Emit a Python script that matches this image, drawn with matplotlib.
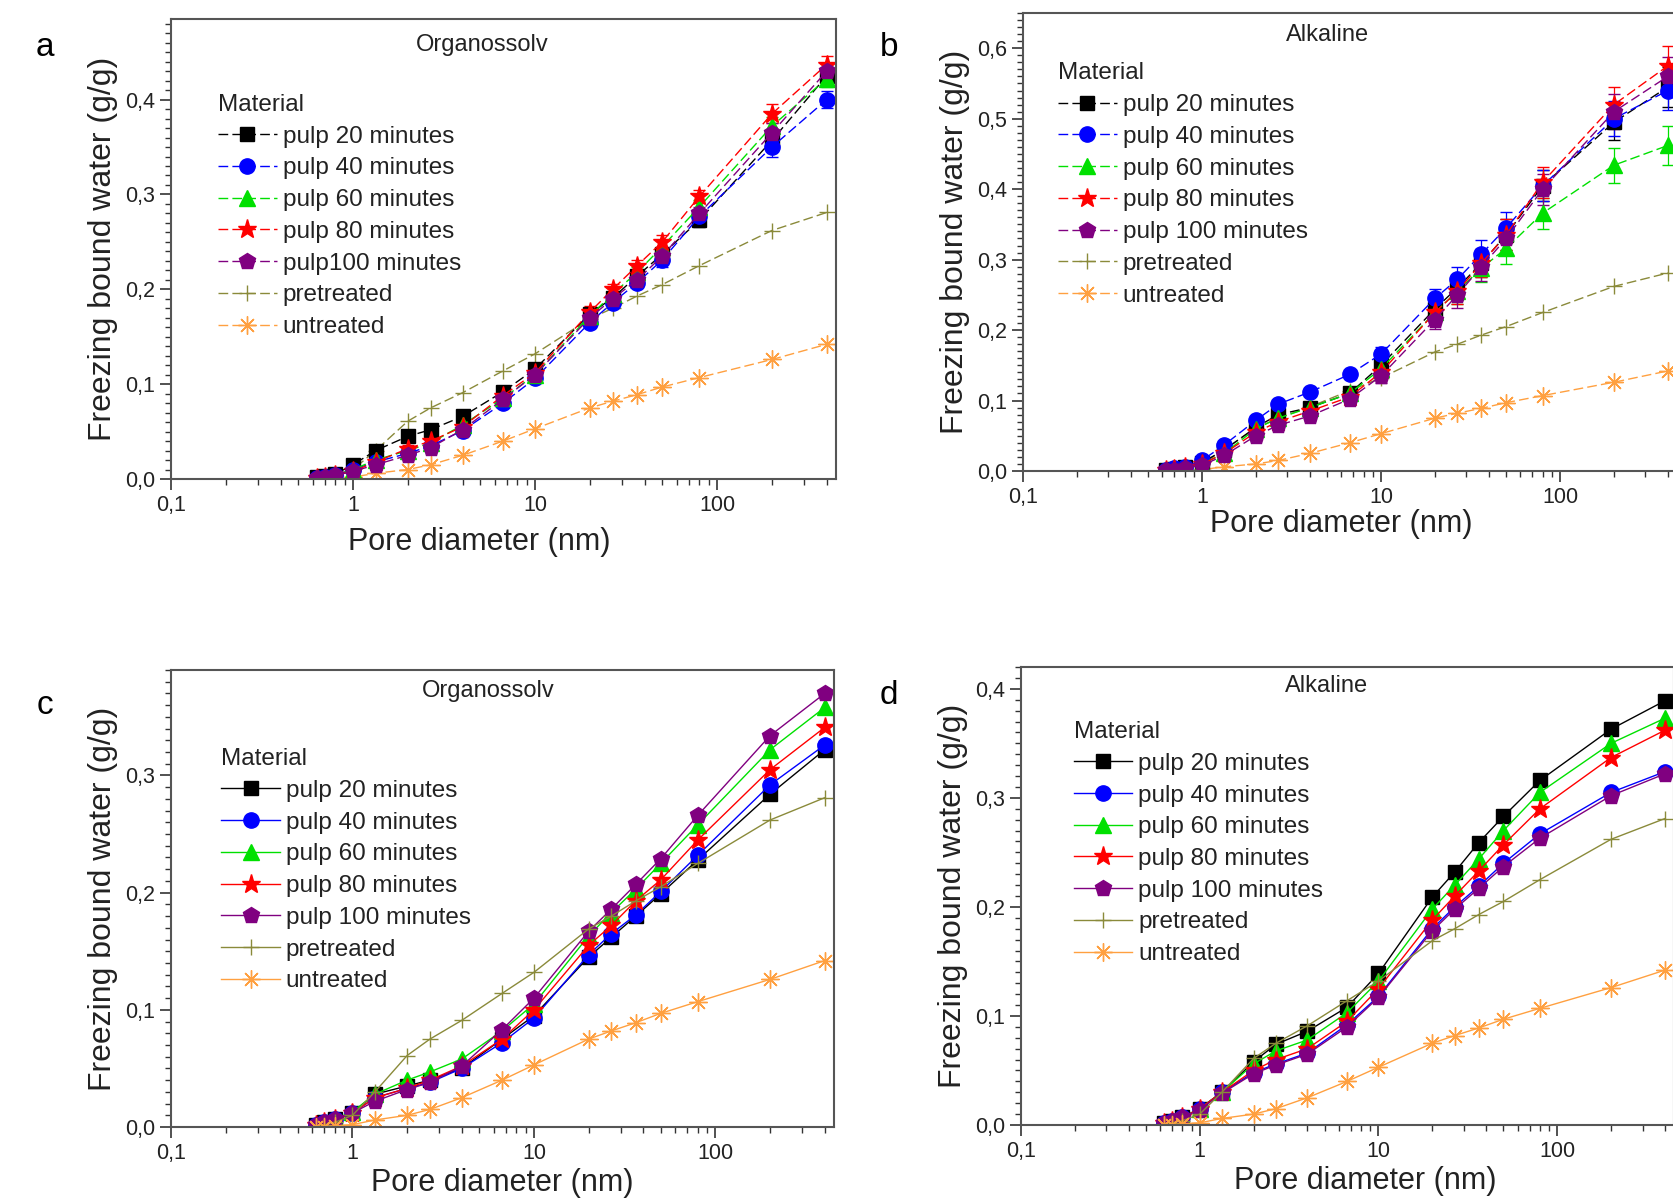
import matplotlib
matplotlib.use('Agg')
import matplotlib.pyplot as plt
import numpy as np
from matplotlib.ticker import FuncFormatter, MultipleLocator, LogLocator

plt.rcParams['font.family'] = ['Liberation Sans', 'DejaVu Sans']

# Pore diameter [nm]
pore = [0.63, 0.7, 0.8, 1.0, 1.33, 2.0, 2.67, 4.0, 6.67, 10, 20, 26.7, 36.4, 50, 80, 200, 400]

# shared reference curves (same in all panels)
pretreated = [0.0, 0.002, 0.004, 0.010, 0.030, 0.061, 0.075, 0.091, 0.114, 0.132, 0.169, 0.180, 0.193, 0.205, 0.225, 0.262, 0.281]
untreated = [0.0, 0.0, 0.001, 0.002, 0.006, 0.010, 0.015, 0.025, 0.040, 0.053, 0.075, 0.082, 0.089, 0.097, 0.107, 0.126, 0.142]

# a: Organossolv (freezing bound water, g/g)
a_p20 = [0.002, 0.003, 0.005, 0.015, 0.030, 0.045, 0.052, 0.066, 0.092, 0.116, 0.174, 0.191, 0.214, 0.237, 0.273, 0.357, 0.425]
a_p40 = [0.001, 0.002, 0.004, 0.010, 0.018, 0.027, 0.035, 0.051, 0.080, 0.106, 0.165, 0.186, 0.207, 0.231, 0.277, 0.350, 0.400]
a_p60 = [0.001, 0.002, 0.004, 0.010, 0.020, 0.030, 0.038, 0.057, 0.085, 0.110, 0.172, 0.195, 0.218, 0.245, 0.287, 0.372, 0.422]
a_p80 = [0.001, 0.002, 0.004, 0.008, 0.018, 0.032, 0.040, 0.055, 0.088, 0.112, 0.176, 0.200, 0.225, 0.250, 0.298, 0.385, 0.437]
a_p100 = [0.001, 0.002, 0.004, 0.008, 0.015, 0.025, 0.033, 0.052, 0.084, 0.110, 0.170, 0.190, 0.210, 0.235, 0.280, 0.365, 0.430]
a_err = [0.001, 0.001, 0.001, 0.002, 0.003, 0.004, 0.004, 0.004, 0.005, 0.005, 0.006, 0.006, 0.006, 0.007, 0.007, 0.010, 0.009]

# b: Alkaline
b_p20 = [0.002, 0.003, 0.005, 0.012, 0.030, 0.062, 0.080, 0.090, 0.110, 0.150, 0.230, 0.260, 0.295, 0.335, 0.405, 0.495, 0.545]
b_p40 = [0.002, 0.004, 0.006, 0.015, 0.037, 0.072, 0.095, 0.112, 0.137, 0.166, 0.245, 0.272, 0.308, 0.345, 0.405, 0.500, 0.540]
b_p60 = [0.001, 0.003, 0.005, 0.010, 0.025, 0.060, 0.075, 0.090, 0.110, 0.145, 0.225, 0.255, 0.288, 0.316, 0.366, 0.434, 0.462]
b_p80 = [0.001, 0.003, 0.005, 0.010, 0.025, 0.055, 0.070, 0.085, 0.105, 0.140, 0.225, 0.255, 0.295, 0.335, 0.410, 0.520, 0.575]
b_p100 = [0.001, 0.002, 0.004, 0.008, 0.022, 0.050, 0.065, 0.078, 0.102, 0.135, 0.215, 0.250, 0.290, 0.330, 0.400, 0.510, 0.560]
b_err = [0.001, 0.001, 0.002, 0.003, 0.004, 0.005, 0.005, 0.006, 0.007, 0.010, 0.014, 0.018, 0.020, 0.022, 0.022, 0.025, 0.028]

# c: Organossolv
c_p20 = [0.002, 0.004, 0.007, 0.012, 0.028, 0.035, 0.040, 0.050, 0.075, 0.095, 0.145, 0.162, 0.180, 0.199, 0.228, 0.284, 0.322]
c_p40 = [0.002, 0.004, 0.007, 0.012, 0.025, 0.033, 0.038, 0.050, 0.072, 0.093, 0.147, 0.165, 0.181, 0.201, 0.232, 0.292, 0.326]
c_p60 = [0.002, 0.004, 0.007, 0.013, 0.028, 0.040, 0.047, 0.058, 0.082, 0.105, 0.163, 0.183, 0.203, 0.225, 0.258, 0.322, 0.358]
c_p80 = [0.002, 0.004, 0.007, 0.012, 0.025, 0.033, 0.040, 0.052, 0.075, 0.100, 0.155, 0.172, 0.193, 0.211, 0.245, 0.305, 0.341]
c_p100 = [0.002, 0.004, 0.007, 0.012, 0.022, 0.032, 0.038, 0.052, 0.083, 0.110, 0.167, 0.186, 0.207, 0.229, 0.266, 0.334, 0.370]

# d: Alkaline
d_p20 = [0.002, 0.004, 0.007, 0.015, 0.030, 0.058, 0.074, 0.086, 0.108, 0.139, 0.209, 0.232, 0.259, 0.283, 0.316, 0.363, 0.389]
d_p40 = [0.002, 0.004, 0.007, 0.015, 0.030, 0.048, 0.056, 0.066, 0.092, 0.118, 0.180, 0.200, 0.219, 0.240, 0.267, 0.305, 0.324]
d_p60 = [0.002, 0.004, 0.007, 0.015, 0.030, 0.056, 0.068, 0.078, 0.103, 0.132, 0.198, 0.220, 0.244, 0.270, 0.305, 0.350, 0.373]
d_p80 = [0.002, 0.004, 0.007, 0.015, 0.030, 0.050, 0.060, 0.070, 0.095, 0.125, 0.188, 0.210, 0.233, 0.257, 0.290, 0.337, 0.362]
d_p100 = [0.002, 0.004, 0.007, 0.014, 0.029, 0.047, 0.055, 0.065, 0.090, 0.117, 0.178, 0.198, 0.217, 0.237, 0.263, 0.302, 0.322]

labels = ['pulp 20 minutes', 'pulp 40 minutes', 'pulp 60 minutes', 'pulp 80 minutes', 'pulp 100 minutes']

styles = [
    dict(color='#000000', marker='s', ms=10),
    dict(color='#0000ff', marker='o', ms=11),
    dict(color='#00e000', marker='^', ms=11),
    dict(color='#ff0000', marker='*', ms=14),
    dict(color='#800080', marker='p', ms=12),
]
pre_style = dict(color='#8a8a3a', marker='+', ms=12, mew=1.0)
unt_style = dict(color='#ffa040', marker=(8, 2, 0), ms=13, mew=1.0)

W, H = 1674, 1200
fig = plt.figure(figsize=(W / 100, H / 100), dpi=100)
fig.patch.set_facecolor('white')


def px_axes(left, right, top, bottom):
    return fig.add_axes([left / W, 1 - bottom / H, (right - left) / W, (bottom - top) / H])


comma = FuncFormatter(lambda v, p: f'{v:.1f}'.replace('.', ','))
xfmt = FuncFormatter(lambda v, p: {0.1: '0,1', 1: '1', 10: '10', 100: '100'}.get(round(v, 3), ''))

panels = [
    dict(box=(171, 836, 19, 479), ymax=0.485, title='Organossolv', tx=0.468, ty=0.944,
         series=[a_p20, a_p40, a_p60, a_p80, a_p100], err=a_err, dashed=True,
         names=labels[:4] + ['pulp100 minutes'], leg=(0.071, 0.837), letter='a', lpos=(45, 48),
         xl=(0.464, -0.137)),
    dict(box=(1023, 1677, 13, 471), ymax=0.65, title='Alkaline', tx=0.465, ty=0.951,
         series=[b_p20, b_p40, b_p60, b_p80, b_p100], err=b_err, dashed=True,
         names=labels, leg=(0.054, 0.892), letter='b', lpos=(889, 48),
         xl=(0.486, -0.116)),
    dict(box=(171, 834, 670, 1127), ymax=0.39, title='Organossolv', tx=0.478, ty=0.953,
         series=[c_p20, c_p40, c_p60, c_p80, c_p100], err=None, dashed=False,
         names=labels, leg=(0.076, 0.829), letter='c', lpos=(45, 705),
         xl=(0.5, -0.122)),
    dict(box=(1021, 1674, 667, 1125), ymax=0.42, title='Alkaline', tx=0.468, ty=0.958,
         series=[d_p20, d_p40, d_p60, d_p80, d_p100], err=None, dashed=False,
         names=labels, leg=(0.081, 0.882), letter='d', lpos=(889, 696),
         xl=(0.527, -0.122)),
]

for p in panels:
    ax = px_axes(*p['box'])
    ls = (0, (7, 3)) if p['dashed'] else '-'
    handles = []
    for ys, st, name in zip(p['series'], styles, p['names']):
        if p['err'] is not None:
            cont = ax.errorbar(pore, ys, yerr=p['err'], ls=ls, lw=1.0, capsize=4, elinewidth=0.9,
                               **st)
            line = cont[0]
        else:
            line, = ax.plot(pore, ys, ls=ls, lw=1.0, **st)
        handles.append((line, name))
    line, = ax.plot(pore, pretreated, ls=ls, lw=1.0, **pre_style)
    handles.append((line, 'pretreated'))
    line, = ax.plot(pore, untreated, ls=ls, lw=1.0, **unt_style)
    handles.append((line, 'untreated'))

    ax.set_xscale('log')
    ax.set_xlim(0.1, 450)
    ax.set_ylim(0, p['ymax'])
    ax.xaxis.set_major_locator(LogLocator(base=10, numticks=10))
    ax.xaxis.set_minor_locator(LogLocator(base=10, subs=np.arange(2, 10), numticks=10))
    ax.xaxis.set_major_formatter(xfmt)
    ax.yaxis.set_major_locator(MultipleLocator(0.1))
    ax.yaxis.set_minor_locator(MultipleLocator(0.01))
    ax.yaxis.set_major_formatter(comma)
    ax.tick_params(which='both', direction='out', top=False, right=False, colors='#333333',
                   labelcolor='#222222', labelsize=15.5)
    ax.tick_params(which='major', length=8, width=1.2)
    ax.tick_params(which='minor', length=4, width=1.0)
    for s in ax.spines.values():
        s.set_color('#555555')
        s.set_linewidth(1.5)

    ax.set_xlabel('Pore diameter (nm)', fontsize=22, color='#222222')
    ax.xaxis.set_label_coords(*p['xl'], transform=ax.transAxes)
    ax.xaxis.label.set_va('center')
    ax.set_ylabel('Freezing bound water (g/g)', fontsize=23, color='#222222', labelpad=5)
    ax.text(p['tx'], p['ty'], p['title'], transform=ax.transAxes, ha='center', va='center',
            fontsize=17, color='#222222')

    leg = ax.legend([h for h, _ in handles], [n for _, n in handles],
                    loc='upper left', bbox_to_anchor=p['leg'], frameon=False, title='Material',
                    alignment='left', fontsize=17.5, title_fontsize=17.5, handlelength=2.4,
                    handletextpad=0.25, labelspacing=0.40, borderpad=0, borderaxespad=0)
    leg.get_title().set_color('#222222')
    for t in leg.get_texts():
        t.set_color('#222222')

    fig.text(p['lpos'][0] / W, 1 - p['lpos'][1] / H, p['letter'], fontsize=24,
             ha='center', va='center')

fig.savefig('out.png', dpi=100, facecolor='white')
